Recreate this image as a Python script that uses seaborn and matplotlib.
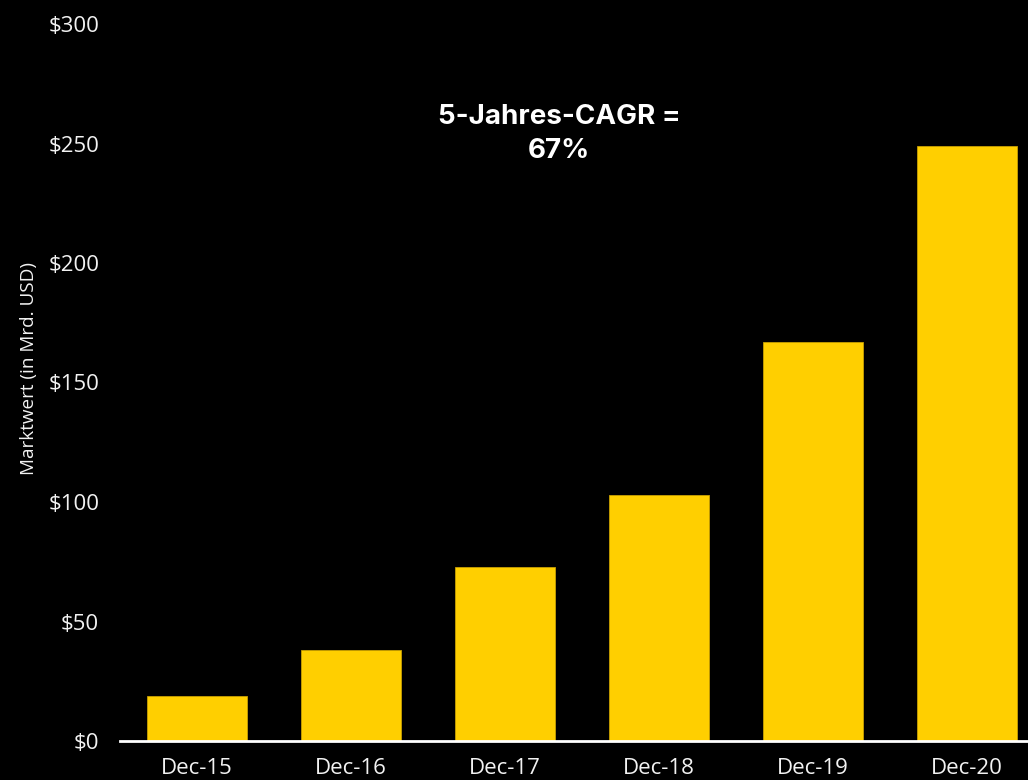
import matplotlib
matplotlib.use("Agg")
import matplotlib.pyplot as plt
import seaborn as sns
import pandas as pd

categories = ["Dec-15", "Dec-16", "Dec-17", "Dec-18", "Dec-19", "Dec-20"]
values = [19, 38, 73, 103, 167, 249]
yticks = [0, 50, 100, 150, 200, 250, 300]
ytick_labels = ["$0", "$50", "$100", "$150", "$200", "$250", "$300"]

sns.set_style("dark")
plt.rcParams['font.family'] = ['Open Sans', 'DejaVu Sans']

df = pd.DataFrame({"date": categories, "value": values})

fig = plt.figure(figsize=(10.28, 7.8), dpi=100, facecolor="black")
ax = fig.add_axes([120/1028, 39/780, 908/1028, (741-24)/780])
ax.set_facecolor("black")

sns.barplot(data=df, x="date", y="value", color="#FFCF00", width=0.65,
            saturation=1, ax=ax, edgecolor="#C8A000", linewidth=0.6)

ax.set_ylim(0, 300)
ax.set_xlim(-0.5, 5.396)
ax.set_yticks(yticks)
ax.set_yticklabels(ytick_labels)
ax.tick_params(axis="both", length=0, colors="#F2F2F2", labelsize=16)
ax.tick_params(axis="y", pad=15)
ax.tick_params(axis="x", pad=12)
ax.grid(False)
for s in ["top", "right", "left"]:
    ax.spines[s].set_visible(False)
ax.spines["bottom"].set_visible(True)
ax.spines["bottom"].set_color("white")
ax.spines["bottom"].set_linewidth(2)
ax.set_xlabel("")
ax.set_ylabel("Marktwert (in Mrd. USD)", color="#F2F2F2", fontsize=13.6)
ax.yaxis.set_label_coords(-0.09, 0.52)

ax.text(2.35, 254, "5-Jahres-CAGR =\n67%", color="white", fontsize=20,
        fontweight="bold", ha="center", va="center", linespacing=1.4,
        family=["Inter", "DejaVu Sans"])

fig.savefig("out.png", dpi=100, facecolor="black")
